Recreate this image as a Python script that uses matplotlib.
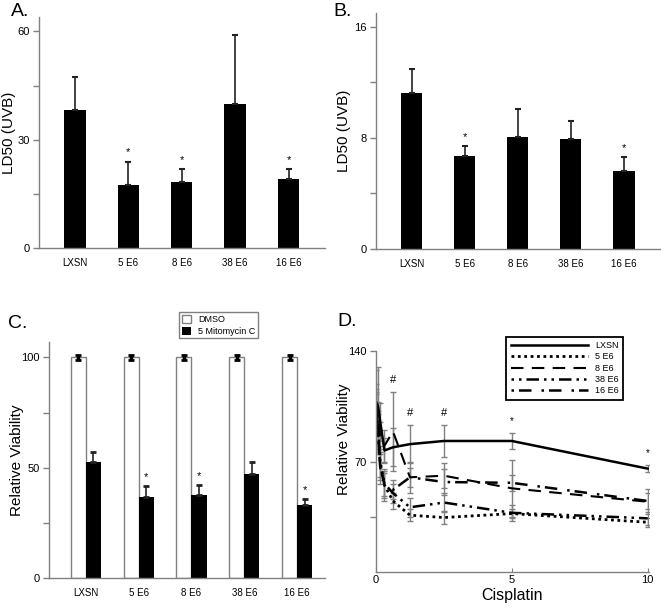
import matplotlib
matplotlib.use("Agg")
from matplotlib import pyplot as plt
from matplotlib.ticker import FixedLocator, NullFormatter

plt.rcParams["font.family"] = ["Liberation Sans", "DejaVu Sans"]
NARROW = ["Liberation Sans Narrow", "Liberation Sans", "DejaVu Sans"]
GREY = "#808080"

groups = ["LXSN", "5 E6", "8 E6", "38 E6", "16 E6"]

# panel A: LD50 (UVB)
ld50_a = [38.1, 17.5, 18.3, 39.8, 19.1]
err_a = [9.4, 6.4, 3.6, 19.2, 2.8]
star_a = [False, True, True, False, True]

# panel B: LD50 (UVB)
ld50_b = [11.25, 6.7, 8.05, 7.9, 5.6]
err_b = [1.7, 0.7, 2.05, 1.3, 1.0]
star_b = [False, True, False, False, True]

# panel C: relative viability
dmso_c = [100, 100, 100, 100, 100]
dmso_err = [1, 1, 1, 1, 1]
mito_c = [52.8, 36.6, 37.5, 47.0, 33.2]
mito_err = [4.2, 5.2, 4.7, 5.8, 2.6]
star_c = [False, True, True, False, True]

# panel D: cisplatin dose response
cisplatin = [0, 0.078, 0.156, 0.3125, 0.625, 1.25, 2.5, 5, 10]
v_lxsn = [108, 105, 95, 77, 79, 81, 83, 83, 65.5]
v_5e6 = [104, 90, 70, 55, 45, 36, 34.5, 37, 31.5]
v_8e6 = [107, 98, 85, 80, 89, 60, 61, 53, 44.5]
v_38e6 = [103, 85, 66, 56, 50, 41, 44, 37.5, 34]
v_16e6 = [106, 88, 68, 55, 52, 60, 57, 56.5, 45]
e_lxsn = [20, 25, 12, 8, 12, 12, 10, 5, 2]
e_5e6 = [10, 12, 10, 8, 5, 4, 4, 3, 3]
e_8e6 = [12, 10, 10, 10, 25, 10, 8, 18, 8]
e_38e6 = [10, 10, 10, 8, 6, 6, 6, 5, 4]
e_16e6 = [10, 12, 10, 10, 6, 6, 8, 5, 5]
marks_x = [0.625, 1.25, 2.5, 5, 10]
marks = ["#", "#", "#", "*", "*"]

fig = plt.figure(figsize=(6.61, 6.09), dpi=100)


def style_axes(ax, major, minor):
    for s in ("top", "right"):
        ax.spines[s].set_visible(False)
    for s in ("left", "bottom"):
        ax.spines[s].set_color(GREY)
        ax.spines[s].set_linewidth(1.0)
    ax.yaxis.set_major_locator(FixedLocator(major))
    ax.yaxis.set_minor_locator(FixedLocator(minor))
    ax.yaxis.set_minor_formatter(NullFormatter())
    ax.tick_params(axis="y", which="both", length=4, color=GREY, width=1,
                   labelsize=8, pad=2.5)
    for lab in ax.get_yticklabels():
        lab.set_family(NARROW)


def bar_panel(rect, vals, errs, stars, ymax, major, minor, letter, lpos, ylab_x):
    ax = fig.add_axes(rect)
    x = range(len(groups))
    ax.bar(x, vals, width=0.4, color="black")
    ax.errorbar(x, vals, yerr=[[0] * len(vals), errs], fmt="none",
                ecolor="#222222", elinewidth=1.2, capsize=2, capthick=1.5)
    for i, s in enumerate(stars):
        if s:
            ax.annotate("*", (i, vals[i] + errs[i]), xytext=(0, 3),
                        textcoords="offset points", ha="center", va="bottom",
                        fontsize=8)
    ax.set_xlim(-0.67, 4.68)
    ax.set_ylim(0, ymax)
    style_axes(ax, major, minor)
    ax.set_xticks(list(x))
    ax.set_xticklabels(groups, fontsize=7, family=NARROW)
    ax.tick_params(axis="x", length=0, pad=7)
    ax.set_ylabel("LD50 (UVB)", fontsize=11)
    ax.yaxis.set_label_coords(ylab_x, 0.5)
    fig.text(lpos[0], lpos[1], letter, fontsize=14, va="center")
    return ax


bar_panel([39 / 661, 1 - 248 / 609, 286 / 661, 231 / 609], ld50_a, err_a,
          star_a, 64, [0, 30, 60], [15, 45], "A.", (11 / 661, 1 - 11 / 609),
          -0.082)
bar_panel([376 / 661, 1 - 249 / 609, 284 / 661, 236 / 609], ld50_b, err_b,
          star_b, 17, [0, 8, 16], [4, 12], "B.", (333 / 661, 1 - 12 / 609),
          -0.088)

# panel C
axc = fig.add_axes([49 / 661, 1 - 578 / 609, 276 / 661, 236 / 609])
xc = list(range(len(groups)))
w = 0.285
xw = [i - w / 2 for i in xc]
xb = [i + w / 2 for i in xc]
axc.bar(xw, dmso_c, width=w, color="white", edgecolor=GREY, linewidth=1.0,
        label="DMSO")
axc.bar(xb, mito_c, width=w, color="black", label="5 Mitomycin C")
axc.errorbar(xw, dmso_c, yerr=dmso_err, fmt="none", ecolor="black",
             elinewidth=2.5, capsize=2, capthick=2)
axc.errorbar(xb, mito_c, yerr=[[0] * len(mito_c), mito_err], fmt="none",
             ecolor="#222222", elinewidth=1.2, capsize=2, capthick=2)
for i, s in enumerate(star_c):
    if s:
        axc.annotate("*", (xb[i], mito_c[i] + mito_err[i]), xytext=(0, 3),
                     textcoords="offset points", ha="center", va="bottom",
                     fontsize=8)
axc.set_xlim(-0.70, 4.53)
axc.set_ylim(0, 107)
style_axes(axc, [0, 50, 100], [25, 75])
axc.set_xticks(xc)
axc.set_xticklabels(groups, fontsize=7, family=NARROW)
axc.tick_params(axis="x", length=0, pad=7)
axc.set_ylabel("Relative Viability", fontsize=11)
axc.yaxis.set_label_coords(-0.09, 0.5)
legc = axc.legend(loc="upper left", bbox_to_anchor=(0.471, 1.125),
                  borderaxespad=0, fontsize=6.5, handlelength=1.0,
                  handleheight=1.0, handletextpad=0.8, borderpad=0.3,
                  labelspacing=0.25, fancybox=False, framealpha=1)
legc.get_frame().set_edgecolor(GREY)
legc.get_frame().set_linewidth(1.0)
for t in legc.get_texts():
    t.set_family(NARROW)
fig.text(8 / 661, 1 - 324 / 609, "C.", fontsize=14, va="center")

# panel D
axd = fig.add_axes([376 / 661, 1 - 572 / 609, 273 / 661, 221 / 609])
series = [
    ("LXSN", v_lxsn, e_lxsn, "-", 1.8),
    ("5 E6", v_5e6, e_5e6, (0, (1, 1.3)), 2.0),
    ("8 E6", v_8e6, e_8e6, (0, (6, 4)), 1.5),
    ("38 E6", v_38e6, e_38e6, (0, (1, 2, 1, 2, 5, 2)), 1.8),
    ("16 E6", v_16e6, e_16e6, (0, (1, 2, 5, 4)), 1.8),
]
for name, v, e, ls, lw in series:
    axd.errorbar(cisplatin, v, yerr=e, fmt="none", ecolor=GREY,
                 elinewidth=1.0, capsize=2, capthick=1.0)
for name, v, e, ls, lw in series:
    axd.plot(cisplatin, v, color="black", linestyle=ls, linewidth=lw,
             label=name)
all_tops = [[v[i] + e[i] for name, v, e, ls, lw in series]
            for i in range(len(cisplatin))]
for mx, mk in zip(marks_x, marks):
    top = max(all_tops[cisplatin.index(mx)])
    axd.annotate(mk, (mx, top), xytext=(0, 5), textcoords="offset points",
                 ha="center", va="bottom", fontsize=8 if mk == "#" else 7)
axd.set_xlim(0, 10.05)
axd.set_ylim(0, 140)
style_axes(axd, [70, 140], [35])
axd.set_xticks([0, 5, 10])
axd.set_xticklabels(["0", "5", "10"], fontsize=8, family=NARROW)
axd.tick_params(axis="x", direction="in", length=3, color=GREY, pad=2)
axd.set_xlabel("Cisplatin", fontsize=11.5, labelpad=2)
axd.set_ylabel("Relative Viability", fontsize=11)
axd.yaxis.set_label_coords(-0.09, 0.6)
legd = axd.legend(loc="upper right", bbox_to_anchor=(0.905, 1.065),
                  borderaxespad=0, fontsize=6.5, handlelength=8.5,
                  handletextpad=0.8, borderpad=0.5, labelspacing=0.25,
                  fancybox=False, framealpha=1)
legd.get_frame().set_edgecolor("black")
legd.get_frame().set_linewidth(1.3)
for t in legd.get_texts():
    t.set_family(NARROW)
fig.text(337 / 661, 1 - 321 / 609, "D.", fontsize=14, va="center")

fig.savefig("out.png", dpi=100)
